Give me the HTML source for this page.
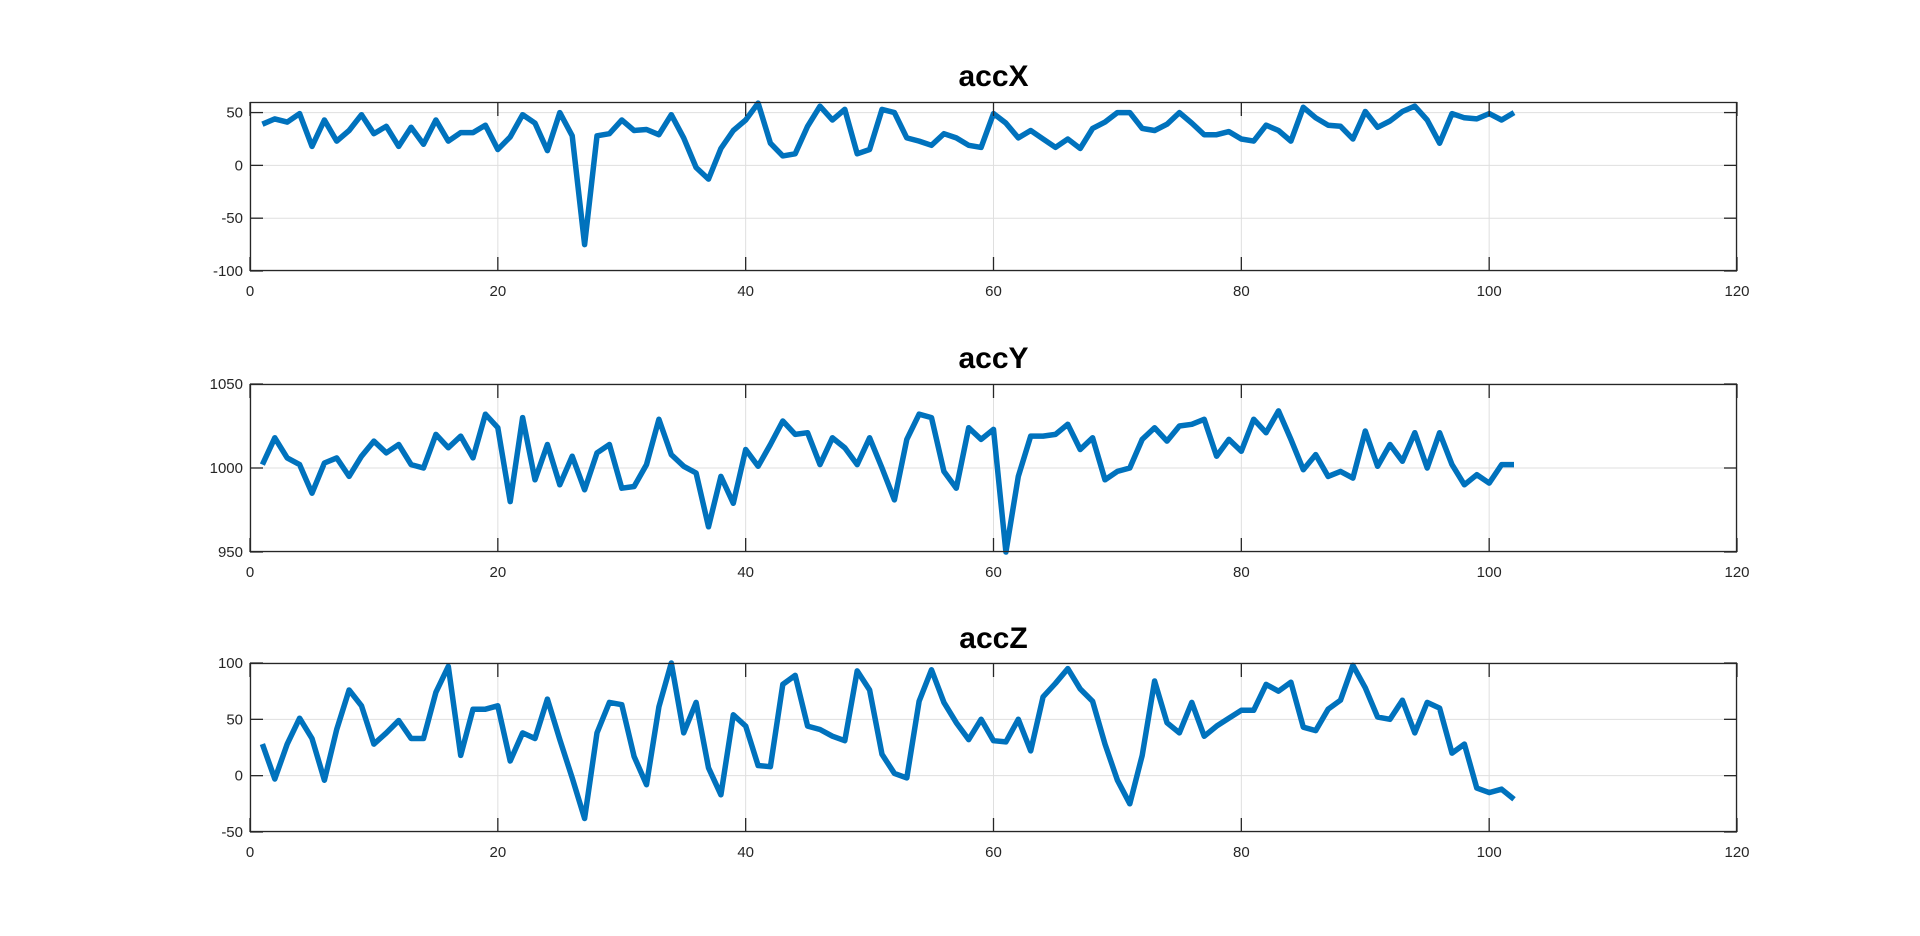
<!DOCTYPE html>
<html><head><meta charset="utf-8"><style>
html,body{margin:0;padding:0;background:#fff;}
svg{display:block;font-family:"Liberation Sans",Arial,sans-serif;}
</style></head><body>
<svg id="fig" width="1920" height="936" viewBox="0 0 1920 936" xmlns="http://www.w3.org/2000/svg"></svg>
<script>
const xTicks = [0,20,40,60,80,100,120];
const titles = ["accX","accY","accZ"];
const yTicksX = [-100,-50,0,50];
const yTicksY = [950,1000,1050];
const yTicksZ = [-50,0,50,100];
const accX = [39,44,41,49,18,43,23,33,48,30,37,18,36,20,43,23,31,31,38,15,27,48,40,14,50,28,-75,28,30,43,33,34,29,48,26,-2,-13,16,33,43,59,21,9,11,37,56,43,53,11,15,53,50,26,23,19,30,26,19,17,49,40,26,33,25,17,25,16,35,41,50,50,35,33,39,50,40,29,29,32,25,23,38,33,23,55,45,38,37,25,51,36,42,51,56,43,21,49,45,44,49,43,50];
const accY = [1002,1018,1006,1002,985,1003,1006,995,1007,1016,1009,1014,1002,1000,1020,1012,1019,1006,1032,1024,980,1030,993,1014,990,1007,987,1009,1014,988,989,1002,1029,1008,1001,997,965,995,979,1011,1001,1014,1028,1020,1021,1002,1018,1012,1002,1018,1000,981,1017,1032,1030,998,988,1024,1017,1023,950,995,1019,1019,1020,1026,1011,1018,993,998,1000,1017,1024,1016,1025,1026,1029,1007,1017,1010,1029,1021,1034,1017,999,1008,995,998,994,1022,1001,1014,1004,1021,1000,1021,1002,990,996,991,1002,1002];
const accZ = [28,-3,28,51,33,-4,41,76,62,28,38,49,33,33,74,97,18,59,59,62,13,38,33,68,32,-2,-38,38,65,63,17,-8,61,100,38,65,7,-17,54,44,9,8,81,89,44,41,35,31,93,76,19,2,-2,66,94,65,47,32,50,31,30,50,22,70,82,95,77,66,28,-4,-25,18,84,47,38,65,35,44,51,58,58,81,75,83,43,40,59,67,98,78,52,50,67,38,65,60,20,28,-11,-15,-12,-21];

const svg = document.getElementById('fig');
const NS = 'http://www.w3.org/2000/svg';
function mk(tag, attrs){const e=document.createElementNS(NS,tag);for(const k in attrs)e.setAttribute(k,attrs[k]);svg.appendChild(e);return e;}

const L=250, R=1737;
const panels = [
  {top:102, bot:271, ymin:-100, ymax:60, ticks:yTicksX, data:accX, title:titles[0], tb:86, key:'accx'},
  {top:384, bot:552, ymin:950, ymax:1050, ticks:yTicksY, data:accY, title:titles[1], tb:368, key:'accy'},
  {top:663, bot:832, ymin:-50, ymax:100, ticks:yTicksZ, data:accZ, title:titles[2], tb:648, key:'accz'}
];
const xs = v => L + (v - xTicks[0])/(xTicks[xTicks.length-1]-xTicks[0])*(R-L);

panels.forEach(p=>{
  const ys = v => p.bot - (v-p.ymin)/(p.ymax-p.ymin)*(p.bot-p.top);
  const bg = mk('rect',{x:L,y:p.top,width:R-L,height:p.bot-p.top,fill:'#fff'});
  
  
  xTicks.forEach(t=>{
    const g=mk('line',{x1:xs(t),x2:xs(t),y1:p.top,y2:p.bot,stroke:'#dfdfdf','stroke-width':1});
    
    
  });
  p.ticks.forEach(t=>{
    const g=mk('line',{x1:L,x2:R,y1:ys(t),y2:ys(t),stroke:'#dfdfdf','stroke-width':1});
    
    
  });
  const pts = p.data.map((v,i)=>xs(i+1).toFixed(1)+','+ys(v).toFixed(1)).join(' ');
  const pl = mk('polyline',{points:pts,fill:'none',stroke:'#0072BD','stroke-width':5.5,'stroke-linejoin':'round','stroke-linecap':'butt'});
  
  
  const box = mk('rect',{x:L+0.5,y:p.top+0.5,width:R-L-1,height:p.bot-p.top-1,fill:'none',stroke:'#262626','stroke-width':1.3});
  
  
  xTicks.forEach(t=>{
    mk('line',{x1:xs(t),x2:xs(t),y1:p.bot,y2:p.bot-14,stroke:'#262626','stroke-width':1.3});
    mk('line',{x1:xs(t),x2:xs(t),y1:p.top,y2:p.top+14,stroke:'#262626','stroke-width':1.3});
    const tx=mk('text',{x:xs(t),y:p.bot+25,'text-anchor':'middle','font-size':15,fill:'#262626'});
    tx.textContent=t;
    
    
  });
  p.ticks.forEach(t=>{
    mk('line',{x1:L,x2:L+13,y1:ys(t),y2:ys(t),stroke:'#262626','stroke-width':1.3});
    mk('line',{x1:R,x2:R-13,y1:ys(t),y2:ys(t),stroke:'#262626','stroke-width':1.3});
    const tx=mk('text',{x:L-7,y:ys(t)+5,'text-anchor':'end','font-size':15,fill:'#262626'});
    tx.textContent=t;
    
    
  });
  const ti=mk('text',{x:(L+R)/2,y:p.tb,'text-anchor':'middle','font-size':30,'font-weight':'bold',fill:'#000'});
  ti.textContent=p.title;
  
  
});
</script>
</body></html>
